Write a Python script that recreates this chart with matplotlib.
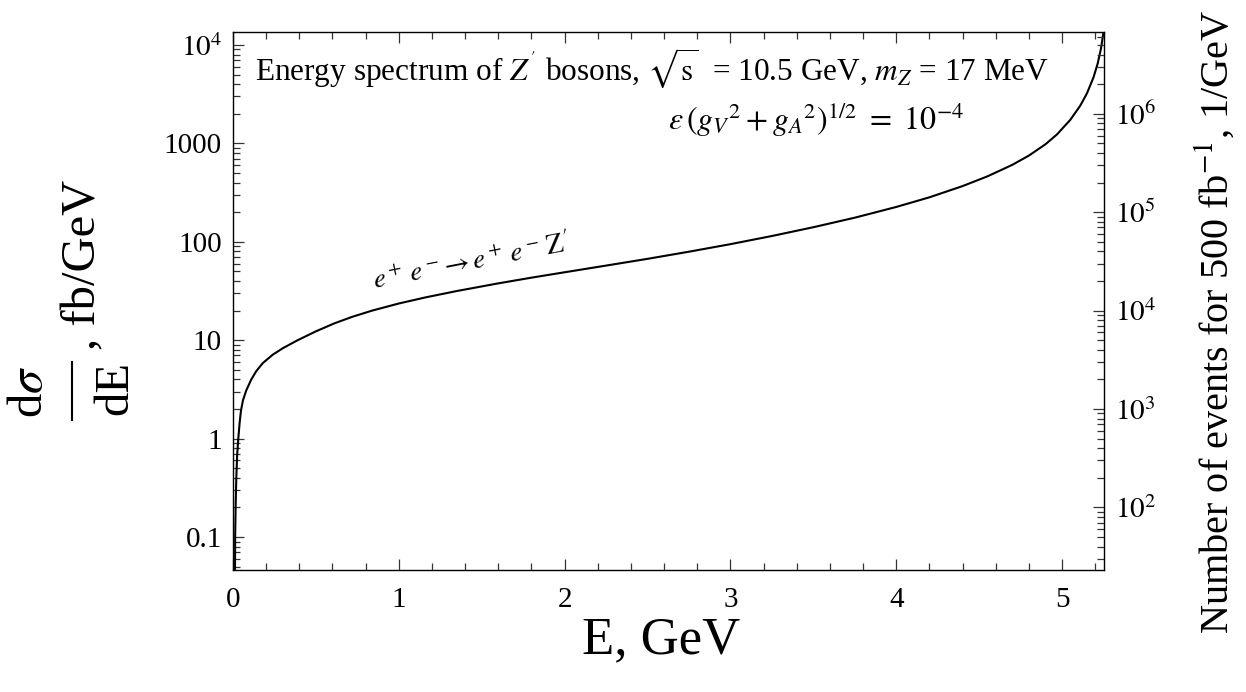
import matplotlib
matplotlib.use('Agg')
import matplotlib.pyplot as plt
from matplotlib.lines import Line2D
from matplotlib.ticker import FixedLocator, NullFormatter, LogLocator
import numpy as np

plt.rcParams['font.family'] = ['Liberation Serif', 'DejaVu Serif']
plt.rcParams['mathtext.fontset'] = 'stix'

# energy of Z' (GeV) and d(sigma)/dE (fb/GeV)
energy = [0.012, 0.013, 0.016, 0.020, 0.025, 0.032, 0.040, 0.048, 0.060, 0.080,
          0.110, 0.140, 0.180, 0.240, 0.300, 0.390, 0.500, 0.610, 0.720, 0.840,
          1.000, 1.160, 1.350, 1.600, 1.800, 2.000, 2.250, 2.500, 2.750, 3.000,
          3.250, 3.500, 3.750, 4.000, 4.200, 4.400, 4.550, 4.700, 4.800, 4.900,
          4.970, 5.050, 5.110, 5.150, 5.190, 5.215, 5.235, 5.250]
dsigma = [0.046, 0.10, 0.21, 0.40, 0.68, 1.00, 1.45, 1.92, 2.45, 3.09,
          3.98, 4.84, 5.86, 7.13, 8.28, 10.0, 12.3, 14.8, 17.3, 20.0,
          23.6, 27.2, 31.6, 37.8, 43.2, 49.0, 57.3, 67.1, 79.3, 94.6,
          114.5, 140.6, 175.8, 225.9, 283.1, 368.1, 462.4, 605.3, 751.6, 979.5,
          1236.0, 1738.0, 2421.0, 3221.0, 4699.0, 6486.0, 9247.0, 13520.0]

lumi = 500  # fb^-1
x_ticks = [0, 1, 2, 3, 4, 5]
left_ticks = [0.1, 1, 10, 100, 1000, 1e4]
left_labels = ['0.1', '1', '10', '100', '1000', r'$10^4$']
right_ticks = [1e2, 1e3, 1e4, 1e5, 1e6]
right_labels = [r'$10^{2}$', r'$10^{3}$', r'$10^{4}$', r'$10^{5}$', r'$10^{6}$']

ylo, yhi = 0.0462, 1.355e4
W, H = 1246, 692

fig = plt.figure(figsize=(12.46, 6.92), dpi=100)
ax = fig.add_axes([233 / W, 1 - 570 / H, 871 / W, 538 / H])
ax.plot(energy, dsigma, color='black', lw=1.5)
ax.set_yscale('log')
ax.set_xlim(0, 5.253)
ax.set_ylim(ylo, yhi)

ax.xaxis.set_major_locator(FixedLocator(x_ticks))
ax.xaxis.set_minor_locator(FixedLocator(np.arange(0, 5.3, 0.2)))
ax.set_yticks(left_ticks)
ax.set_yticklabels(left_labels)
ax.yaxis.set_minor_locator(LogLocator(base=10, subs=np.arange(2, 10), numticks=20))
ax.yaxis.set_minor_formatter(NullFormatter())
ax.tick_params(which='both', direction='in', top=True, labelsize=21, width=0.9,
               color='#333333')
ax.tick_params(which='major', length=8)
ax.tick_params(which='minor', length=5)
ax.tick_params(axis='x', pad=12)
ax.tick_params(axis='y', pad=8)
for s in ax.spines.values():
    s.set_linewidth(1.0)
    s.set_color('#333333')

ax2 = ax.twinx()
ax2.set_yscale('log')
ax2.set_ylim(ylo * lumi, yhi * lumi)
ax2.set_yticks(right_ticks)
ax2.set_yticklabels(right_labels)
ax2.yaxis.set_minor_locator(LogLocator(base=10, subs=np.arange(2, 10), numticks=20))
ax2.yaxis.set_minor_formatter(NullFormatter())
ax2.tick_params(which='both', direction='in', labelsize=21, width=0.9, color='#333333', pad=8)
ax2.tick_params(which='major', length=8)
ax2.tick_params(which='minor', length=5)

ax.text(0.025, 0.911, r"Energy spectrum of $Z^{'}$ bosons, $\sqrt{\mathrm{s}}$  = 10.5 GeV, $m_Z$ = 17 MeV",
        transform=ax.transAxes, fontsize=22.5, ha='left', va='baseline')
ax.text(0.840, 0.818, r'$\varepsilon\,(g_V{}^2 + g_A{}^2)^{1/2}\ =\ 10^{-4}$',
        transform=ax.transAxes, fontsize=23, ha='right', va='baseline')
ax.text(1.447, 52, r"$e^+\,e^-\!\rightarrow e^+\,e^-\,\mathrm{Z}'$", fontsize=20,
        rotation=11, rotation_mode='anchor', ha='center', va='baseline')

# x label
fig.text(661 / W, 1 - 640 / H, 'E, GeV', fontsize=38, ha='center', va='center')

# left label: big fraction d(sigma)/dE followed by ", fb/GeV"
fig.text(30 / W, 1 - 392 / H, r'd$\sigma$', fontsize=35, rotation=90, ha='center', va='center')
fig.text(115 / W, 1 - 388 / H, 'dE', fontsize=35, rotation=90, ha='center', va='center')
fig.add_artist(Line2D([72 / W, 72 / W], [1 - 420 / H, 1 - 362 / H], color='black',
                      lw=1.5, transform=fig.transFigure))
fig.text(95 / W, 1 - 350 / H, ', fb/GeV', fontsize=35, rotation=90,
         rotation_mode='anchor', ha='left', va='baseline')

# right label
fig.text(1215 / W, 1 - 322 / H, r'Number of events for 500 fb$^{-1}$, 1/GeV',
         fontsize=29, rotation=90, ha='center', va='center')

fig.savefig('out.png', dpi=100)
